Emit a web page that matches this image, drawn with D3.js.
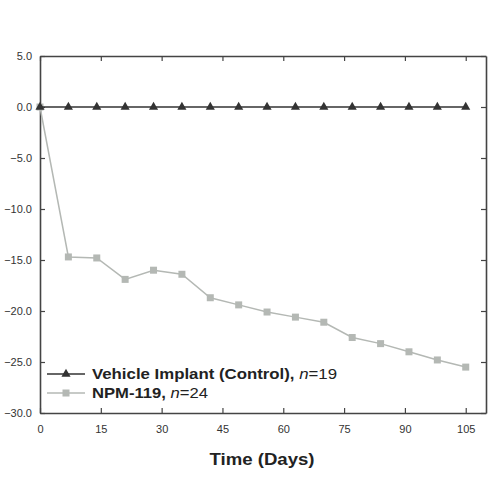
<!DOCTYPE html>
<html>
<head>
<meta charset="utf-8">
<script src="https://cdn.jsdelivr.net/npm/d3@7"></script>
<style>
  body { margin: 0; background: #fff; }
  svg { font-family: "Liberation Sans", Arial, sans-serif; }
</style>
</head>
<body>
<div id="chart"></div>
<script>
// données
const days = [0, 7, 14, 21, 28, 35, 42, 49, 56, 63, 70, 77, 84, 91, 98, 105];
const controlValues = [0, 0, 0, 0, 0, 0, 0, 0, 0, 0, 0, 0, 0, 0, 0, 0];
const npmValues = [0, -14.7, -14.8, -16.9, -16.0, -16.4, -18.7, -19.4, -20.1, -20.6, -21.1, -22.6, -23.2, -24.0, -24.8, -25.5];
const xTicks = [0, 15, 30, 45, 60, 75, 90, 105];
const yTicks = [5, 0, -5, -10, -15, -20, -25, -30];
const seriesNames = ["Vehicle Implant (Control), ", "NPM-119, "];
const seriesN = ["19", "24"];

const width = 500, height = 500;
const margin = { top: 56, right: 14, bottom: 87, left: 40 };

const svg = d3.select("#chart").append("svg")
    .attr("width", width)
    .attr("height", height);

const x = d3.scaleLinear().domain([0, 110]).range([margin.left, width - margin.right]);
const y = d3.scaleLinear().domain([-30, 5]).range([height - margin.bottom, margin.top]);

const axisColor = "#444";

// axes (ticks vers l'intérieur)
const fmt = d3.format(".1f");
svg.append("g")
    .attr("transform", `translate(0,${y(-30)})`)
    .call(d3.axisBottom(x).tickValues(xTicks).tickSizeInner(-5).tickSizeOuter(0).tickPadding(12))
    .call(g => g.selectAll("text").style("font-size", "11px").attr("fill", "#333"));
svg.append("g")
    .attr("transform", `translate(0,${y(5)})`)
    .call(d3.axisTop(x).tickValues(xTicks).tickSizeInner(-5).tickSizeOuter(0).tickFormat(""));
svg.append("g")
    .attr("transform", `translate(${x(0)},0)`)
    .call(d3.axisLeft(y).tickValues(yTicks).tickSizeInner(-5).tickSizeOuter(0).tickPadding(8).tickFormat(fmt))
    .call(g => g.selectAll("text").style("font-size", "11px").attr("fill", "#333"));
svg.append("g")
    .attr("transform", `translate(${x(110)},0)`)
    .call(d3.axisRight(y).tickValues(yTicks).tickSizeInner(-5).tickSizeOuter(0).tickFormat(""));

svg.selectAll(".domain").attr("stroke", axisColor).attr("stroke-width", 1.6);
svg.selectAll(".tick line").attr("stroke", axisColor).attr("stroke-width", 1.2);

// séries
const npmColor = "#b4b8b4";
const ctrlColor = "#333";

const line = d3.line().x((d, i) => x(days[i])).y(d => y(d));

svg.append("path")
    .datum(npmValues)
    .attr("fill", "none")
    .attr("stroke", npmColor)
    .attr("stroke-width", 1.5)
    .attr("d", line);
svg.selectAll("rect.npm")
    .data(npmValues)
    .join("rect")
    .attr("class", "npm")
    .attr("x", (d, i) => x(days[i]) - 3.5)
    .attr("y", d => y(d) - 3.5)
    .attr("width", 7)
    .attr("height", 7)
    .attr("fill", npmColor);

svg.append("path")
    .datum(controlValues)
    .attr("fill", "none")
    .attr("stroke", ctrlColor)
    .attr("stroke-width", 1.6)
    .attr("d", line);
const tri = d3.symbol().type(d3.symbolTriangle).size(36);
svg.selectAll("path.ctrl")
    .data(controlValues)
    .join("path")
    .attr("class", "ctrl")
    .attr("d", tri)
    .attr("transform", (d, i) => `translate(${x(days[i])},${y(d)})`)
    .attr("fill", ctrlColor);

// légende (texte un peu étiré comme sur l'original)
const legendWidths = [245, 116];
const legend = svg.append("g").attr("transform", "translate(47,374)");
seriesNames.forEach((name, i) => {
    const g = legend.append("g").attr("transform", `translate(0,${i * 19})`);
    const col = i === 0 ? ctrlColor : npmColor;
    g.append("line").attr("x1", 0).attr("x2", 38).attr("stroke", col).attr("stroke-width", 1.5);
    if (i === 0) {
        g.append("path").attr("d", tri).attr("transform", "translate(19,0)").attr("fill", col);
    } else {
        g.append("rect").attr("x", 15.5).attr("y", -3.5).attr("width", 7).attr("height", 7).attr("fill", col);
    }
    const t = g.append("text").attr("x", 45).attr("dy", "0.35em")
        .attr("textLength", legendWidths[i])
        .attr("lengthAdjust", "spacingAndGlyphs")
        .style("font-size", "14px").attr("fill", "#222");
    t.append("tspan").style("font-weight", "bold").text(name);
    t.append("tspan").style("font-style", "italic").text("n");
    t.append("tspan").text("=" + seriesN[i]);
});

// titre de l'axe X
svg.append("text")
    .attr("x", 262)
    .attr("y", 465)
    .attr("text-anchor", "middle")
    .attr("textLength", 105)
    .attr("lengthAdjust", "spacingAndGlyphs")
    .style("font-size", "16px")
    .style("font-weight", "bold")
    .attr("fill", "#222")
    .text("Time (Days)");
</script>
</body>
</html>
